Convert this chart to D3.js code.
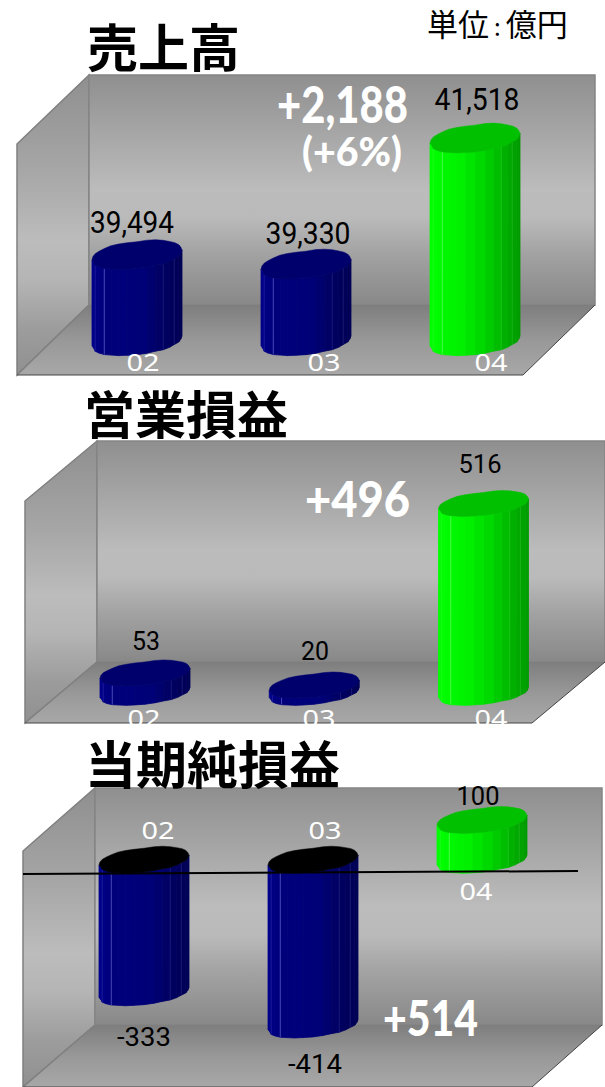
<!DOCTYPE html>
<html lang="ja">
<head>
<meta charset="utf-8">
<script src="https://cdn.jsdelivr.net/npm/d3@7"></script>
<style>
html,body{margin:0;padding:0;background:#fff;overflow:hidden}
svg{display:block}
</style>
</head>
<body>
<script>
// ---- data ----
const categories = ["02", "03", "04"];
const salesValues = [39494, 39330, 41518];
const operatingValues = [53, 20, 516];
const netValues = [-333, -414, 100];
const salesLabels = ["39,494", "39,330", "41,518"];
const operatingLabels = ["53", "20", "516"];
const netLabels = ["-333", "-414", "100"];
const unitParts = ["単位", ":", "億円"];
const titles = ["売上高", "営業損益", "当期純損益"];

// ---- layout ----
const W = 605, H = 1087;
const JP = "'Noto Sans CJK JP','Noto Sans',sans-serif";
const panels = [
  { title: titles[0], titleX: 87, titleY: 67, values: salesValues, labels: salesLabels, ry: 13.5, shear: 5,
    back: [89, 75, 595, 305], front: [17, 144, 375], floorRight: 523,
    xr: [137, 475], domain: [38000, 42000], range: [341, 110.6],
    labelX: [132, 308, 477], labelY: [233, 244, 110], labelW: [84, 85, 85], labelFont: "Roboto", labelSize: 31,
    catX: [143, 324, 491], catY: [371, 371, 371] },
  { title: titles[1], titleX: 84, titleY: 434, values: operatingValues, labels: operatingLabels, ry: 11.5, shear: 5,
    back: [97, 441, 605, 662], front: [25, 501, 723], floorRight: 532,
    xr: [145, 483.5], domain: [0, 600], range: [692.6, 473],
    labelX: [146, 315, 480], labelY: [650, 660, 473], labelW: [28, 28, 43], labelFont: "Roboto", labelSize: 25,
    catX: [144, 319, 491], catY: [727, 727, 727] },
  { title: titles[2], titleX: 85, titleY: 784, values: netValues, labels: netLabels, ry: 12, shear: 5,
    back: [95, 788, 602, 1025], front: [23, 851, 1087], floorRight: 532,
    xr: [144, 482], domain: [-500, 200], range: [1059, 780.4],
    labelX: [144, 315, 478], labelY: [1046, 1073, 805], labelW: [54, 54, 43], labelFont: "Roboto", labelSize: 25,
    catX: [158, 325, 476], catY: [839, 839, 900], zero: [[23, 874], [578, 871]] }
];
const deltas = [
  { text: "+2,188", x: 277, y: 123, w: 131, size: 52 },
  { text: "(+6%)", x: 302, y: 166, w: 100, size: 40 },
  { text: "+496", x: 305, y: 517, w: 105, size: 50 },
  { text: "+514", x: 383, y: 1036, w: 95, size: 50 }
];
const RX = 45;
const outline = [1,.99,1.01,.98,1,1.02,.98,1,1.01,.99,1,.98,1.01,1,1,.97,1,1.03,1.05,1.01,1.02,1.06,1.03,1,.98,1.03,1.05,1.03,1,1.02,1,.99];
const highlightEdges = [[12, .55], [14, .2], [5, .18], [3, .18]];

const svg = d3.select("body").append("svg").attr("width", W).attr("height", H).attr("viewBox", `0 0 ${W} ${H}`);
const defs = svg.append("defs");

function grad(id, stops) {
  const g = defs.append("linearGradient").attr("id", id).attr("x1", 0).attr("y1", 0).attr("x2", 0).attr("y2", 1);
  stops.forEach(([o, c]) => g.append("stop").attr("offset", o).attr("stop-color", c));
}
grad("wall", [[0, "#8f8f8f"], [.12, "#9a9a9a"], [.5, "#bcbcbc"], [.62, "#bababa"], [.78, "#a2a2a2"], [1, "#888888"]]);
grad("side", [[0, "#8f8f8f"], [.3, "#a5a5a5"], [.55, "#bcbcbc"], [.68, "#b5b5b5"], [.85, "#9c9c9c"], [1, "#909090"]]);
grad("floor", [[0, "#7e7e7e"], [.5, "#989898"], [1, "#a8a8a8"]]);

const line = d3.line();
const polyline = pts => line(pts) + "Z";
const blueShade = d3.scaleLinear().domain([0, .12, .55, .8, 1]).range(["#00008c", "#00007c", "#000078", "#000060", "#000055"]);
const greenShade = d3.scaleLinear().domain([0, .35, .6, .8, 1]).range(["#00ff00", "#00f000", "#00d400", "#00b400", "#009a00"]);
const spow = v => Math.sign(v) * Math.pow(Math.abs(v), .92);

function ring(cx, cy, ry, shear) {
  return outline.map((w, i) => {
    const t = i / outline.length * 2 * Math.PI;
    const c = spow(Math.cos(t)), s = spow(Math.sin(t));
    return [cx + RX * Math.min(w, 1) * c, cy + ry * w * s - shear * c];
  });
}

panels.forEach(p => {
  const g = svg.append("g");
  const [bx0, by0, bx1, by1] = p.back;
  const [fx, fyTop, fyBot] = p.front;
  // walls
  g.append("path").attr("d", polyline([[fx, fyTop], [bx0, by0], [bx0, by1], [fx, fyBot]]))
    .attr("fill", "url(#side)").attr("stroke", "#808080").attr("stroke-width", 1.5);
  g.append("rect").attr("x", bx0).attr("y", by0).attr("width", bx1 - bx0).attr("height", by1 - by0)
    .attr("fill", "url(#wall)").attr("stroke", "#858585").attr("stroke-width", 1.5);
  g.append("path").attr("d", polyline([[bx0, by1], [bx1, by1], [p.floorRight, fyBot], [fx, fyBot]]))
    .attr("fill", "url(#floor)");
  g.append("path").attr("d", line([[bx0, by1], [fx, fyBot]])).attr("fill", "none").attr("stroke", "#808080").attr("stroke-width", 1.5);
  g.append("path").attr("d", line([[fx, fyBot], [p.floorRight, fyBot], [bx1, by1]])).attr("fill", "none").attr("stroke", "#444").attr("stroke-width", 1);

  const x = d3.scalePoint().domain(categories).range(p.xr);
  const y = d3.scaleLinear().domain(p.domain).range(p.range);
  const base = p.domain[0] < 0 ? 0 : p.domain[0];

  const bars = g.selectAll("g.bar").data(categories.map((c, i) => ({ c, v: p.values[i], i }))).join("g").attr("class", "bar");
  bars.each(function (d) {
    const sel = d3.select(this);
    const cx = x(d.c), yv = y(d.v), y0 = y(base);
    const topY = Math.min(yv, y0), botY = Math.max(yv, y0);
    const T = ring(cx, topY, p.ry, p.shear), B = ring(cx, botY, p.ry, p.shear);
    const half = outline.length / 2;
    const green = d.i === 2;
    const shade = green ? greenShade : blueShade;
    // front strips run right-to-left over the lower half of the ring
    const strips = d3.range(half).map(i => {
      const j = i + 1;
      const xm = (T[i][0] + T[j][0]) / 2;
      return { pts: [T[i], T[j], B[j], B[i]], u: (xm - (cx - RX)) / (2 * RX) };
    });
    sel.selectAll("path.s").data(strips).join("path").attr("class", "s")
      .attr("d", s => polyline(s.pts)).attr("fill", s => shade(s.u))
      .attr("stroke", s => shade(s.u)).attr("stroke-width", .8);
    sel.selectAll("path.h").data(highlightEdges).join("path").attr("class", "h")
      .attr("d", ([e]) => line([T[e], B[e]])).attr("fill", "none")
      .attr("stroke", green ? "#a0ffa0" : "#a0a0ff").attr("stroke-opacity", ([, o]) => o).attr("stroke-width", .8);
    const capColor = d.v < 0 ? "#000000" : (green ? "#00c000" : "#00006c");
    sel.append("path").attr("d", polyline(T)).attr("fill", capColor).attr("stroke", capColor).attr("stroke-width", .5);
  });

  if (p.zero) {
    g.append("path").attr("d", line(p.zero)).attr("stroke", "#000").attr("stroke-width", 2).attr("fill", "none");
  }

  // category labels
  g.selectAll("text.cat").data(categories).join("text").attr("class", "cat")
    .attr("x", (d, i) => p.catX[i]).attr("y", (d, i) => p.catY[i])
    .attr("text-anchor", "middle").attr("fill", "#fff")
    .attr("font-family", "'Noto Sans',sans-serif").attr("font-size", 24)
    .attr("textLength", 33).attr("lengthAdjust", "spacingAndGlyphs").text(d => d);

  // value labels
  g.selectAll("text.val").data(p.labels).join("text").attr("class", "val")
    .attr("x", (d, i) => p.labelX[i]).attr("y", (d, i) => p.labelY[i])
    .attr("text-anchor", "middle").attr("fill", "#000")
    .attr("font-family", p.labelFont + ",sans-serif").attr("font-size", p.labelSize)
    .attr("textLength", (d, i) => p.labelW[i]).attr("lengthAdjust", "spacingAndGlyphs").text(d => d);

  // title
  svg.append("text").attr("x", p.titleX).attr("y", p.titleY).attr("fill", "#000")
    .attr("font-family", JP).attr("font-weight", 700).attr("font-size", 51).text(p.title);
});

svg.selectAll("text.delta").data(deltas).join("text").attr("class", "delta")
  .attr("x", d => d.x).attr("y", d => d.y).attr("fill", "#fff")
  .attr("font-family", "Lato,'Open Sans',sans-serif").attr("font-weight", 900).attr("font-size", d => d.size)
  .attr("textLength", d => d.w).attr("lengthAdjust", "spacingAndGlyphs").text(d => d.text);

const unit = svg.append("text").attr("x", 427).attr("y", 36).attr("fill", "#000")
  .attr("font-family", JP).attr("font-size", 31);
unit.selectAll("tspan").data(unitParts).join("tspan")
  .attr("dx", (d, i) => i ? 5 : 0).attr("font-size", (d, i) => i === 1 ? 24 : 31).text(d => d);
</script>
</body>
</html>
